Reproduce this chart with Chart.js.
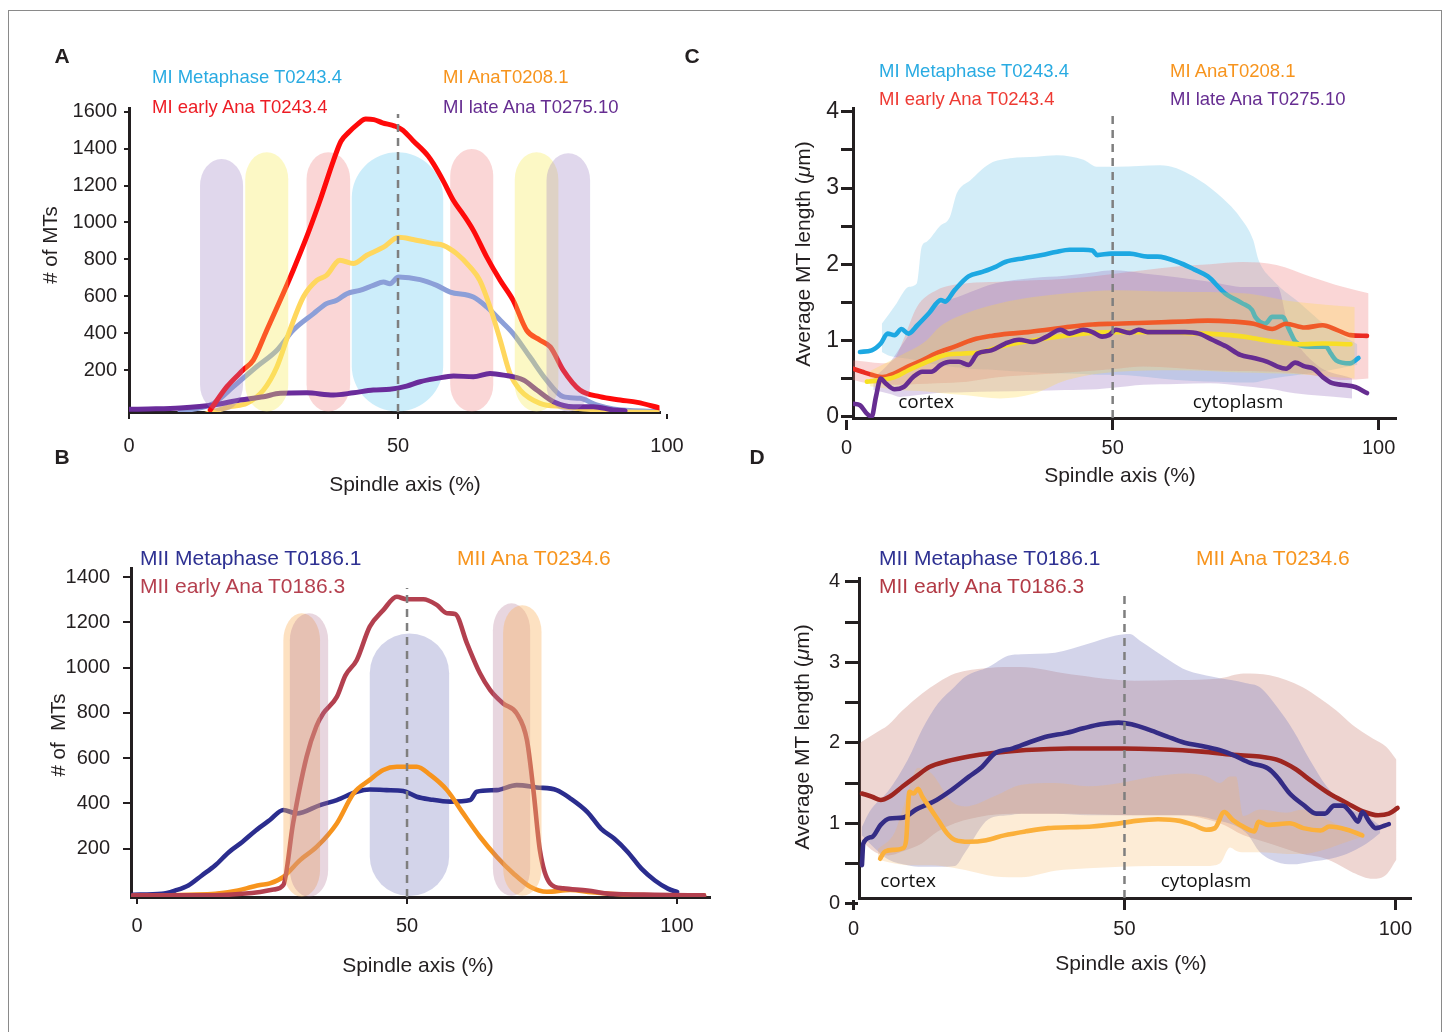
<!DOCTYPE html>
<html><head><meta charset="utf-8">
<script src="https://cdn.jsdelivr.net/npm/chart.js@4.4.0/dist/chart.umd.min.js"></script>
<style>
html,body{margin:0;padding:0;background:#fff;}
body{width:1444px;height:1032px;position:relative;overflow:hidden;font-family:'Liberation Sans',Arial,sans-serif;color:#231F20;}
canvas{position:absolute;left:0;top:0;}
.t{position:absolute;white-space:nowrap;line-height:1;transform:translate(0,-50%);}
.c{transform:translate(-50%,-50%);}
.r{transform:translate(-50%,-50%) rotate(-90deg);}
.frame{position:absolute;left:8px;top:10px;width:1432px;height:1040px;border:1px solid #8a8a8a;}
.lg{font-size:18.5px;}
.lg2{font-size:21px;}
.ax{font-size:21px;}
.note{font-family:'Open Sans',sans-serif;font-size:19px;color:#111;}
.let{font-weight:bold;font-size:21px;}
</style></head><body>
<div class="frame"></div>
<canvas id="cA" width="1444" height="1032"></canvas>
<canvas id="cB" width="1444" height="1032"></canvas>
<canvas id="cC" width="1444" height="1032"></canvas>
<canvas id="cD" width="1444" height="1032"></canvas>

<div class="t c let" style="left:62px;top:55px">A</div>
<div class="t c let" style="left:62px;top:456px">B</div>
<div class="t c let" style="left:692px;top:55px">C</div>
<div class="t c let" style="left:757px;top:456px">D</div>

<div class="t lg" style="left:152px;top:77px;color:#29ABE2">MI Metaphase T0243.4</div>
<div class="t lg" style="left:152px;top:107px;color:#ED1C24">MI early Ana T0243.4</div>
<div class="t lg" style="left:443px;top:77px;color:#F7941D">MI AnaT0208.1</div>
<div class="t lg" style="left:443px;top:107px;color:#662D91">MI late Ana T0275.10</div>

<div class="t lg" style="left:879px;top:71px;color:#29ABE2">MI Metaphase T0243.4</div>
<div class="t lg" style="left:879px;top:99px;color:#EE3A33">MI early Ana T0243.4</div>
<div class="t lg" style="left:1170px;top:71px;color:#F7941D">MI AnaT0208.1</div>
<div class="t lg" style="left:1170px;top:99px;color:#662D91">MI late Ana T0275.10</div>

<div class="t lg2" style="left:140px;top:557px;color:#2E3192">MII Metaphase T0186.1</div>
<div class="t lg2" style="left:140px;top:585px;color:#B5404F">MII early Ana T0186.3</div>
<div class="t lg2" style="left:457px;top:557px;color:#F7941D">MII Ana T0234.6</div>

<div class="t lg2" style="left:879px;top:557px;color:#2E3192">MII Metaphase T0186.1</div>
<div class="t lg2" style="left:879px;top:585px;color:#B23A45">MII early Ana T0186.3</div>
<div class="t lg2" style="left:1196px;top:557px;color:#F7941D">MII Ana T0234.6</div>

<div class="t c ax" style="left:405px;top:483px">Spindle axis (%)</div>
<div class="t r ax" style="left:50px;top:245px;font-size:20.5px"># of MTs</div>
<div class="t c ax" style="left:418px;top:964px">Spindle axis (%)</div>
<div class="t r ax" style="left:58px;top:735px;font-size:20.5px"># of&nbsp; MTs</div>
<div class="t c ax" style="left:1120px;top:474px">Spindle axis (%)</div>
<div class="t r ax" style="left:802px;top:254px">Average MT length (<i>μ</i>m)</div>
<div class="t c ax" style="left:1131px;top:962px">Spindle axis (%)</div>
<div class="t r ax" style="left:801px;top:737px">Average MT length (<i>μ</i>m)</div>

<div class="t c note" style="left:926px;top:401px">cortex</div>
<div class="t c note" style="left:1238px;top:401px">cytoplasm</div>
<div class="t c note" style="left:908px;top:880px">cortex</div>
<div class="t c note" style="left:1206px;top:880px">cytoplasm</div>

<script>
// ---------------- DATA ----------------
// Panel A: # of MTs along spindle axis (%), meiosis I
const A_xTicks = [0, 50, 100];
const A_yTicks = [200, 400, 600, 800, 1000, 1200, 1400, 1600];
const A_meta_x = [9.5,15.7,19.4,23.7,27.5,30.5,34.3,36.7,38.6,40.5,42.9,45.4,47.3,48.5,50.1,54.1,57.2,59.7,64.0,66.5,69.0,71.4,74.5,77.6,80.7,83.8,86.9,90.0,98.4];
const A_meta_y = [-25,20,110,218,308,416,506,560,578,614,632,659,677,668,704,690,659,623,596,542,470,398,272,146,56,47,11,-10,-25];
const A_early_x = [15.1,18.2,21.2,23.1,25.6,28.1,30.5,33.0,35.5,38.0,39.4,40.9,42.4,44.0,45.5,47.1,49.4,50.9,52.8,55.6,56.6,58.5,60.3,62.2,64.0,66.5,69.0,71.4,73.9,76.4,78.3,80.7,83.8,87.5,91.3,94.5,98.6];
const A_early_y = [-16,110,200,254,416,578,740,920,1119,1335,1440,1490,1530,1560,1557,1540,1522,1500,1443,1360,1317,1220,1119,1040,957,812,686,578,416,362,326,200,92,56,38,25,-5];
const A_ana_x = [14.1,18.8,21.9,25.0,27.5,29.9,32.4,34.9,36.7,39.2,41.7,44.2,47.3,50.1,52.8,56.6,58.4,60.9,63.4,65.2,67.1,69.0,70.8,72.7,76.4,80.7,86.9,91.3,98.4];
const A_ana_y = [-40,2,20,92,218,416,596,686,713,795,777,822,866,920,908,885,876,831,758,686,542,362,182,92,20,2,-16,-25,-30];
const A_late_x = [0,5,9.5,15.7,20.6,25.0,28.1,33.0,38.0,41.7,45.4,48.5,51.6,54.1,57.2,60.3,64.0,67.1,69.6,73.3,75.8,78.9,82.6,86.3,90.0,92.2];
const A_late_y = [-12,-10,-5,11,38,56,74,77,65,77,92,96,113,137,155,168,164,182,173,146,92,29,2,2,-16,-20];
// shaded zones (x-range in %, y-range in # of MTs)
const A_zone_x0 = [13.2, 21.6, 33.0, 41.4, 59.7, 71.7, 77.6];
const A_zone_x1 = [21.2, 29.6, 41.1, 58.4, 67.7, 79.8, 85.7];
const A_zone_top = [1344, 1380, 1380, 1380, 1398, 1380, 1375];
const A_zone_bottom = [-24, -24, -24, -24, -24, -24, -24];
const A_midX = 50, A_midTop = 1587;

// Panel B: meiosis II
const B_xTicks = [0, 50, 100];
const B_yTicks = [200, 400, 600, 800, 1000, 1200, 1400];
const B_meta_x = [-0.8,4.6,7.1,9.5,12.0,14.5,17.0,19.5,22.0,24.6,27.1,29.6,33.9,37.0,40.7,43.1,46.2,49.3,51.8,54.3,58.0,61.7,62.9,66.6,70.3,74.0,77.7,80.2,83.4,85.9,88.4,90.9,93.4,95.9,98.3,100];
const B_meta_y = [-3,1,16,38,82,127,185,230,281,327,371,356,393,415,452,462,459,455,430,418,408,415,452,459,481,471,459,423,362,289,244,185,112,60,24,9];
const B_early_x = [-0.8,4.6,12.9,19.5,22.8,25.3,27.1,28.9,31.4,33.2,34.5,37.0,38.6,40.7,43.1,45.6,48.1,49.9,53.0,55.5,57.4,58.9,61.1,63.5,65.4,67.8,70.3,72.2,73.4,74.6,76.5,78.9,83.4,87.6,95.9,105];
const B_early_y = [-6,-6,-6,1,9,20,40,312,606,740,798,871,966,1034,1181,1254,1313,1302,1302,1277,1240,1237,1107,975,901,842,798,680,459,194,47,25,16,1,-3,-6];
const B_ana_x = [4.6,9.5,14.5,18.7,21.2,22.8,24.6,27.1,30.2,33.3,37.0,40.1,43.1,45.6,48.1,51.8,54.3,57.4,60.4,63.5,66.6,69.7,72.8,75.9,80.2,84.2,91.7,105];
const B_ana_y = [-6,-3,1,16,31,40,47,76,150,209,312,445,504,548,562,562,526,459,356,253,165,91,32,10,18,8,-3,-6];
const B_zone_x0 = [27.1, 28.3, 43.1, 65.9, 67.8];
const B_zone_x1 = [33.9, 35.4, 57.8, 72.8, 74.9];
const B_zone_top = [1240, 1240, 1151, 1284, 1276];
const B_zone_bottom = [-12, -12, -9, -8, -8];
const B_midX = 50, B_midTop = 1352;

// Panel C: average MT length (µm), meiosis I
const C_xTicks = [0, 50, 100];
const C_yTicks = [0, 0.5, 1, 1.5, 2, 2.5, 3, 3.5, 4];
const C_meta_x = [2.5,4.7,6.4,7.7,9.0,10.3,11.6,13.3,15.5,17.7,18.5,20.3,22.9,25.5,28.1,29.8,33.3,36.7,39.3,41.9,44.5,46.2,47.1,49.7,53.2,56.6,58.4,62.9,65.4,67.9,71.1,74.3,76.2,76.8,78.7,80.0,81.9,83.2,84.4,87.0,90.1,91.0,92.0,94.6,96.2];
const C_meta_y = [0.85,0.87,0.96,1.09,1.07,1.15,1.09,1.20,1.36,1.53,1.51,1.66,1.84,1.90,1.97,2.03,2.08,2.12,2.16,2.19,2.19,2.18,2.12,2.14,2.14,2.10,2.10,2.01,1.93,1.84,1.62,1.49,1.40,1.31,1.22,1.31,1.31,1.14,0.98,0.92,0.92,0.83,0.74,0.70,0.77];
const C_early_x = [1.2,2.9,4.7,6.8,9.0,11.6,14.2,16.8,20.3,23.7,27.2,30.6,34.1,37.6,41.9,46.2,50.6,54.9,59.2,63.6,67.9,72.2,76.5,80.0,82.6,86.1,89.5,92.1,94.7,97.8];
const C_early_y = [0.63,0.59,0.55,0.52,0.57,0.66,0.74,0.83,0.92,1.01,1.06,1.09,1.11,1.14,1.18,1.21,1.22,1.23,1.24,1.25,1.26,1.25,1.22,1.15,1.22,1.17,1.20,1.14,1.07,1.06];
const C_ana_x = [3.8,6.4,9.0,11.6,15.1,18.5,22.0,25.5,28.9,33.3,37.6,41.9,46.2,50.6,54.9,59.2,63.6,67.9,72.2,76.5,80.9,85.2,89.5,94.7];
const C_ana_y = [0.46,0.48,0.52,0.61,0.72,0.81,0.83,0.85,0.92,0.98,1.03,1.07,1.10,1.11,1.11,1.11,1.10,1.09,1.07,1.03,0.98,0.95,0.96,0.95];
const C_late_x = [1.2,2.5,3.8,4.7,5.5,6.4,7.3,9.0,10.7,12.5,14.2,15.9,17.7,19.4,21.1,22.9,24.6,27.2,29.8,32.4,35.0,37.6,40.2,41.9,44.5,46.2,48.0,49.3,50.6,53.2,54.9,56.6,60.1,63.6,66.2,68.7,71.4,74.0,76.5,79.1,80.9,82.6,84.3,86.1,87.8,89.5,91.3,93.0,95.6,97.8];
const C_late_y = [0.17,0.15,0.04,0.0,0.26,0.50,0.44,0.36,0.39,0.52,0.59,0.59,0.68,0.72,0.72,0.68,0.83,0.87,0.96,1.01,0.98,1.05,1.14,1.09,1.14,1.11,1.05,1.07,1.14,1.10,1.14,1.11,1.11,1.11,1.09,1.01,0.92,0.81,0.77,0.72,0.66,0.63,0.71,0.66,0.63,0.52,0.44,0.42,0.39,0.31];
// ranges (upper / lower envelopes)
const C_metaBand_x = [6.6,8,9.4,11.6,13.2,14.1,15.1,17.5,19.4,20.7,23.2,26.9,30.7,35.7,39.5,44.5,47.0,50.8,54.9,58.9,62,65.2,69.6,73.9,76.4,77.4,80,85,90,96];
const C_metaBand_hi = [1.22,1.35,1.49,1.7,1.75,2.23,2.3,2.5,2.62,2.93,3.10,3.32,3.39,3.41,3.43,3.37,3.28,3.28,3.29,3.30,3.26,3.15,2.93,2.62,2.32,2.06,1.8,1.5,1.2,0.95];
const C_metaBand_lo = [0.85,0.8,0.78,0.76,0.74,0.72,0.7,0.68,0.66,0.65,0.63,0.62,0.6,0.58,0.57,0.56,0.55,0.55,0.53,0.5,0.48,0.47,0.46,0.45,0.45,0.46,0.5,0.55,0.6,0.68];
const C_earlyBand_x = [1.2,3.8,6.6,9.0,10.6,13.2,16.9,22.6,28.8,35.1,41.4,50.8,55.8,62,68.3,74.5,80.8,87.1,93.4,98.1];
const C_earlyBand_hi = [0.74,0.72,0.70,0.76,1.0,1.44,1.66,1.75,1.77,1.79,1.81,1.88,1.92,1.97,2.0,2.03,1.99,1.84,1.70,1.62];
const C_earlyBand_lo = [0.48,0.44,0.43,0.42,0.42,0.43,0.44,0.46,0.52,0.55,0.58,0.63,0.66,0.64,0.61,0.6,0.59,0.55,0.48,0.5];
const C_lateBand_x = [5,8,10,13,17,22,28,35,41,47,50,55.8,62,68.3,74.8,81,83,88,95];
const C_lateBand_hi = [0.5,0.7,0.9,1.2,1.45,1.6,1.75,1.82,1.85,1.9,1.92,1.88,1.83,1.77,1.70,1.70,1.2,0.7,0.5];
const C_lateBand_lo = [0.35,0.3,0.26,0.28,0.31,0.32,0.33,0.34,0.35,0.36,0.38,0.42,0.43,0.44,0.40,0.35,0.32,0.28,0.24];
const C_anaBand_x = [4.4,10,15,17.5,22.6,28.8,35.1,41.4,50.8,62,74.5,84,90,95.5];
const C_anaBand_hi = [0.6,0.8,1.0,1.18,1.36,1.49,1.57,1.62,1.66,1.64,1.62,1.51,1.47,1.44];
const C_anaBand_lo = [0.4,0.35,0.33,0.31,0.28,0.24,0.3,0.48,0.59,0.61,0.58,0.56,0.53,0.5];
const C_midX = 50, C_midTop = 3.96;

// Panel D: average MT length (µm), meiosis II
const D_xTicks = [0, 50, 100];
const D_yTicks = [0, 0.5, 1, 1.5, 2, 2.5, 3, 3.5, 4];
const D_meta_x = [1.54,1.8,3.4,5.0,6.6,9.1,11.5,14.8,18.0,21.3,23.7,26.1,29.4,32.6,35.9,39.1,42.4,45.6,48.9,51.3,54.6,57.8,61.1,64.3,67.5,70.0,73.2,76.5,78.1,80.5,83.0,85.4,87.0,88.7,90.3,91.9,93.1,93.9,95.2,96.4,98.8];
const D_meta_y = [0.48,0.75,0.83,0.98,1.06,1.07,1.17,1.27,1.41,1.58,1.70,1.87,1.93,2.01,2.08,2.12,2.18,2.23,2.25,2.23,2.16,2.08,2.00,1.96,1.91,1.85,1.75,1.68,1.58,1.37,1.23,1.12,1.12,1.22,1.22,1.12,1.02,1.14,1.02,0.94,0.99];
const D_early_x = [1.54,3.4,5.0,6.6,9.1,11.5,14.0,17.2,21.3,25.3,31.8,39.9,49.7,56.2,64.3,70.0,74.9,78.1,81.4,84.6,87.8,91.1,94.3,96.8,98.8,100.4];
const D_early_y = [1.37,1.33,1.29,1.33,1.46,1.58,1.70,1.77,1.83,1.87,1.91,1.93,1.93,1.92,1.89,1.85,1.83,1.79,1.68,1.52,1.37,1.25,1.14,1.10,1.12,1.19];
const D_ana_x = [4.9,5.8,7.5,9.1,9.7,10.3,11.1,11.9,12.7,13.9,15.6,17.2,18.8,21.3,24.5,27.8,31.8,35.9,39.9,44.0,48.1,52.1,56.2,60.2,62.7,65.1,66.7,68.4,70.0,72.4,74.0,74.7,76.5,80.5,83.0,86.2,87.8,91.1,93.9];
const D_ana_y = [0.56,0.65,0.67,0.69,0.79,1.39,1.37,1.43,1.33,1.21,1.04,0.88,0.79,0.77,0.79,0.85,0.90,0.94,0.95,0.96,0.99,1.03,1.05,1.03,0.98,0.92,0.94,1.14,1.04,0.94,0.90,1.02,0.98,1.00,0.94,0.91,0.96,0.92,0.85];
const D_earlyBand_x = [1.2,4,6.4,9,12.6,15.6,18.7,24.9,30.7,40,51.9,60,67.6,72,76.8,82.9,86.1,89.1,92.1,95.9,98.3,100.2];
const D_earlyBand_hi = [2.0,2.12,2.22,2.4,2.61,2.75,2.86,2.93,2.94,2.85,2.77,2.78,2.80,2.86,2.84,2.69,2.55,2.40,2.22,2.05,1.95,1.79];
const D_earlyBand_lo = [0.8,0.64,0.6,0.65,0.75,0.9,1.0,1.1,1.12,1.12,1.1,1.1,1.0,0.85,0.75,0.62,0.58,0.5,0.39,0.31,0.36,0.55];
const D_metaBand_x = [1.5,3,6.4,10,12.6,15.6,18.7,20.6,24.9,28.5,31,37.2,43.3,48.2,51,52.8,58.4,61.5,66.3,72.5,75,78.1,81.1,84.2,87.3,91,94.7,97.2];
const D_metaBand_hi = [0.95,1.15,1.4,1.79,2.16,2.49,2.7,2.82,2.94,3.08,3.10,3.12,3.23,3.33,3.35,3.27,3.02,2.90,2.82,2.74,2.69,2.45,2.16,1.79,1.46,1.21,1.09,0.97];
const D_metaBand_lo = [0.85,0.75,0.55,0.48,0.46,0.46,0.47,0.64,1.05,1.1,1.12,1.12,1.1,1.1,1.1,1.1,1.1,1.1,1.05,0.88,0.64,0.52,0.49,0.52,0.55,0.62,0.75,0.88];
const D_anaBand_x = [4.5,7.6,10,11.9,14.4,18.1,20.6,26.1,31,37.2,43.3,49.2,55.3,61.5,65.2,67.6,69.5,70.6,71.9,75,79.9,82.9,87.3,89.8,94.1];
const D_anaBand_hi = [0.68,0.89,1.38,1.69,1.62,1.27,1.21,1.34,1.48,1.50,1.46,1.50,1.58,1.62,1.58,1.50,1.58,1.58,1.09,1.17,1.13,1.17,1.05,0.97,0.89];
const D_anaBand_lo = [0.55,0.5,0.48,0.48,0.48,0.45,0.42,0.34,0.33,0.41,0.44,0.46,0.47,0.47,0.47,0.5,0.7,0.66,0.64,0.64,0.62,0.62,0.68,0.74,0.84];
const D_midX = 50, D_midTop = 3.84;

// ---------------- STYLE / HELPERS ----------------
const FONT = "'Liberation Sans', Arial, sans-serif";
const INK = '#231F20';
const pts = (xs, ys) => xs.map((x, i) => ({x: x, y: ys[i]}));

function line(xs, ys, color, order, w) {
  return {data: pts(xs, ys), borderColor: color, borderWidth: w || 4.6, pointRadius: 0, fill: false,
    cubicInterpolationMode: 'monotone', order: order, borderCapStyle: 'round', borderJoinStyle: 'round'};
}
function band(xs, hi, lo, color, order) {
  return [
    {data: pts(xs, hi), borderColor: 'rgba(0,0,0,0)', borderWidth: 0, pointRadius: 0, backgroundColor: color,
      fill: '+1', cubicInterpolationMode: 'monotone', order: order},
    {data: pts(xs, lo), borderColor: 'rgba(0,0,0,0)', borderWidth: 0, pointRadius: 0,
      fill: false, cubicInterpolationMode: 'monotone', order: order}
  ];
}
function midLine(x, y0, y1, order) {
  return {data: [{x: x, y: y0}, {x: x, y: y1}], borderColor: '#7f7f7f', borderWidth: 2.5, borderDash: [8, 6],
    pointRadius: 0, fill: false, order: order};
}
function zonePlugin(z) {
  function draw(chart, front) {
    const ctx = chart.ctx, xs = chart.scales.x, ys = chart.scales.y;
    ctx.save();
    for (let i = 0; i < z.x0.length; i++) {
      if (!!z.front[i] !== front) continue;
      const l = xs.getPixelForValue(z.x0[i]), r = xs.getPixelForValue(z.x1[i]);
      const t = ys.getPixelForValue(z.top[i]), b = ys.getPixelForValue(z.bottom[i]);
      const cx = (l + r) / 2, rx = (r - l) / 2, ry = Math.max(rx, 27);
      ctx.beginPath();
      ctx.ellipse(cx, t + ry, rx, ry, 0, Math.PI, 2 * Math.PI);
      ctx.lineTo(r, b - ry);
      ctx.ellipse(cx, b - ry, rx, ry, 0, 0, Math.PI);
      ctx.closePath();
      ctx.fillStyle = z.colors[i];
      ctx.fill();
    }
    ctx.restore();
  }
  return {id: 'zones', beforeDatasetsDraw(c) { draw(c, false); }, afterDatasetsDraw(c) { draw(c, true); }};
}
function scales(o) {
  return {
    x: {type: 'linear', min: o.xmin, max: o.xmax,
      afterBuildTicks: s => { s.ticks = o.xticks.map(v => ({value: v})); },
      afterFit: s => { s.height = 60; },
      border: {display: true, color: INK, width: 3},
      grid: {display: true, drawOnChartArea: false, drawTicks: true, tickLength: o.xtl, tickWidth: o.tw, tickColor: INK, color: INK, lineWidth: o.tw},
      ticks: {font: {family: FONT, size: 20}, color: INK, padding: o.xpad, autoSkip: false, maxRotation: 0, minRotation: 0,
        callback: v => String(v)}},
    y: {type: 'linear', min: o.ymin, max: o.ymax,
      afterBuildTicks: s => { s.ticks = o.yticks.map(v => ({value: v})); },
      afterFit: s => { s.width = 100; },
      border: {display: true, color: INK, width: 3},
      grid: {display: true, drawOnChartArea: false, drawTicks: true, tickLength: o.ytl, tickWidth: o.tw, tickColor: INK, color: INK, lineWidth: o.tw},
      ticks: {font: {family: FONT, size: o.yfs}, color: INK, padding: o.ypad, autoSkip: false,
        callback: v => (o.intOnly ? (Number.isInteger(v) ? String(v) : '') : String(v))}}
  };
}
function baseOptions(pad, sc) {
  return {responsive: false, animation: false, events: [],
    layout: {padding: pad},
    plugins: {legend: {display: false}, tooltip: {enabled: false}},
    scales: sc};
}

// ---------------- PANEL A ----------------
new Chart(document.getElementById('cA'), {
  type: 'line',
  data: {datasets: [
    midLine(A_midX, -27, A_midTop, 0),
    line(A_early_x, A_early_y, '#FF0A0A', 1, 5),
    line(A_late_x, A_late_y, '#6A2C9B', 2, 5),
    line(A_ana_x, A_ana_y, '#FFD75E', 3, 5),
    line(A_meta_x, A_meta_y, '#8C9FD8', 4, 5)
  ]},
  options: baseOptions({left: 29, right: 784.5, top: 108, bottom: 560},
    scales({xmin: 0, xmax: 98.6, xticks: A_xTicks, ymin: -27, ymax: 1620, yticks: A_yTicks,
      xtl: 7, xpad: 15, ytl: 5, ypad: 7, yfs: 20, tw: 2})),
  plugins: [zonePlugin({x0: A_zone_x0, x1: A_zone_x1, top: A_zone_top, bottom: A_zone_bottom,
    colors: ['rgba(160,130,195,0.32)', 'rgba(245,235,90,0.35)', 'rgba(240,120,120,0.3)', 'rgba(100,200,240,0.33)',
             'rgba(240,120,120,0.3)', 'rgba(245,235,90,0.35)', 'rgba(160,130,195,0.32)'],
    front: [true, true, false, false, false, true, true]})]
});

// ---------------- PANEL B ----------------
new Chart(document.getElementById('cB'), {
  type: 'line',
  data: {datasets: [
    midLine(B_midX, -13, B_midTop, 0),
    line(B_early_x, B_early_y, '#B3404F', 1),
    line(B_ana_x, B_ana_y, '#F7941D', 2),
    line(B_meta_x, B_meta_y, '#2B2D8E', 3)
  ]},
  options: baseOptions({left: 31, right: 734, top: 568, bottom: 75},
    scales({xmin: -1.11, xmax: 106.1, xticks: B_xTicks, ymin: -13, ymax: 1440, yticks: B_yTicks,
      xtl: 7, xpad: 10, ytl: 8, ypad: 13, yfs: 20, tw: 2})),
  plugins: [zonePlugin({x0: B_zone_x0, x1: B_zone_x1, top: B_zone_top, bottom: B_zone_bottom,
    colors: ['rgba(250,180,100,0.4)', 'rgba(180,120,150,0.3)', 'rgba(120,125,190,0.33)',
             'rgba(180,120,150,0.3)', 'rgba(250,180,100,0.4)'],
    front: [true, true, false, true, true]})]
});

// ---------------- PANEL C ----------------
new Chart(document.getElementById('cC'), {
  type: 'line',
  data: {datasets: [
    ...band(C_metaBand_x, C_metaBand_hi, C_metaBand_lo, 'rgba(120,200,235,0.33)', 20),
    ...band(C_earlyBand_x, C_earlyBand_hi, C_earlyBand_lo, 'rgba(240,120,120,0.3)', 19),
    ...band(C_lateBand_x, C_lateBand_hi, C_lateBand_lo, 'rgba(150,110,190,0.3)', 18),
    line(C_meta_x, C_meta_y, '#1DA8E2', 10),
    line(C_early_x, C_early_y, '#EB2A22', 9),
    line(C_ana_x, C_ana_y, '#F5E11E', 8),
    ...band(C_anaBand_x, C_anaBand_hi, C_anaBand_lo, 'rgba(255,215,60,0.28)', 7),
    line(C_late_x, C_late_y, '#662D91', 6),
    midLine(C_midX, -0.017, C_midTop, 5)
  ]},
  options: baseOptions({left: 753, right: 49, top: 108, bottom: 554},
    scales({xmin: 1.19, xmax: 103.07, xticks: C_xTicks, ymin: -0.017, ymax: 4.05, yticks: C_yTicks, intOnly: true,
      xtl: 12, xpad: 6, ytl: 12, ypad: 2, yfs: 23, tw: 3}))
});

// ---------------- PANEL D ----------------
new Chart(document.getElementById('cD'), {
  type: 'line',
  data: {datasets: [
    ...band(D_earlyBand_x, D_earlyBand_hi, D_earlyBand_lo, 'rgba(200,120,105,0.3)', 20),
    ...band(D_metaBand_x, D_metaBand_hi, D_metaBand_lo, 'rgba(120,125,190,0.33)', 19),
    ...band(D_anaBand_x, D_anaBand_hi, D_anaBand_lo, 'rgba(247,180,90,0.25)', 18),
    line(D_early_x, D_early_y, '#9E2620', 3),
    line(D_meta_x, D_meta_y, '#342C85', 2),
    line(D_ana_x, D_ana_y, '#FBB03B', 1),
    midLine(D_midX, 0.072, D_midTop, 0)
  ]},
  options: baseOptions({left: 759, right: 34, top: 578, bottom: 74},
    scales({xmin: 1, xmax: 102.7, xticks: D_xTicks, ymin: 0.072, ymax: 4.047, yticks: D_yTicks, intOnly: true,
      xtl: 12, xpad: 7, ytl: 14, ypad: 5, yfs: 20, tw: 3}))
});
</script>
</body></html>
